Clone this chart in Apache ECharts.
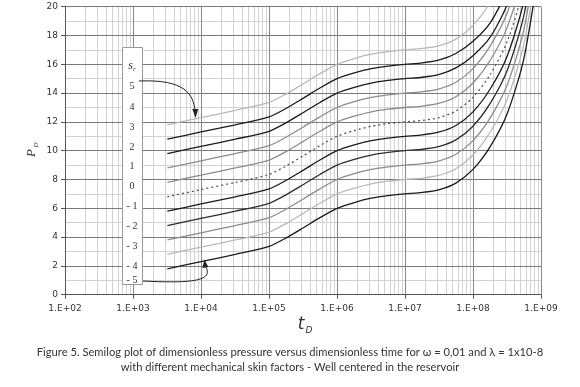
<!DOCTYPE html>
<html>
<head>
<meta charset="utf-8">
<script src="https://cdn.jsdelivr.net/npm/echarts@6/dist/echarts.min.js"></script>
<style>
  html, body { margin: 0; padding: 0; background: #fff; }
  #main { width: 580px; height: 387px; }
</style>
</head>
<body>
<div id="main"></div>
<script>
// dimensionless time (x, log scale)
var tD = [3.2e3, 1e4, 3.2e4, 1e5, 1.8e5, 3.2e5, 5.6e5, 1e6, 1.8e6, 3.2e6, 5.6e6, 1e7, 1.8e7, 3.2e7, 5.6e7, 1e8, 1.8e8, 3.2e8, 5.6e8, 1e9];

// PD for each mechanical skin factor
var s5  = [11.8, 12.3, 12.8, 13.35, 13.95, 14.65, 15.35, 16.0, 16.4, 16.7, 16.88, 17.0, 17.1, 17.3, 17.75, 18.7, 20.3, 22.6, 26.4, 33.6];
var s4  = [10.8, 11.3, 11.8, 12.35, 12.95, 13.65, 14.35, 15.0, 15.4, 15.7, 15.88, 16.0, 16.1, 16.3, 16.75, 17.6, 18.9, 21.2, 25.4, 32.6];
var s3  = [9.8, 10.3, 10.8, 11.35, 11.95, 12.65, 13.35, 14.0, 14.4, 14.7, 14.88, 15.0, 15.1, 15.3, 15.75, 16.6, 17.9, 20.2, 24.4, 31.6];
var s2  = [8.8, 9.3, 9.8, 10.35, 10.95, 11.65, 12.35, 13.0, 13.4, 13.7, 13.88, 14.0, 14.1, 14.3, 14.75, 15.7, 17.3, 19.6, 23.4, 30.6];
var s1  = [7.8, 8.3, 8.8, 9.35, 9.95, 10.65, 11.35, 12.0, 12.4, 12.7, 12.88, 13.0, 13.1, 13.3, 13.75, 14.7, 16.3, 18.6, 22.4, 29.6];
var s0  = [6.8, 7.3, 7.8, 8.35, 8.95, 9.65, 10.35, 11.0, 11.4, 11.7, 11.88, 12.0, 12.1, 12.3, 12.75, 13.7, 15.3, 17.6, 21.4, 28.6];
var sm1 = [5.8, 6.3, 6.8, 7.35, 7.95, 8.65, 9.35, 10.0, 10.4, 10.7, 10.88, 11.0, 11.1, 11.3, 11.75, 12.7, 14.3, 16.6, 20.4, 27.6];
var sm2 = [4.8, 5.3, 5.8, 6.35, 6.95, 7.65, 8.35, 9.0, 9.4, 9.7, 9.88, 10.0, 10.1, 10.3, 10.75, 11.7, 13.3, 15.6, 19.4, 26.6];
var sm3 = [3.8, 4.3, 4.8, 5.35, 5.95, 6.65, 7.35, 8.0, 8.4, 8.7, 8.88, 9.0, 9.1, 9.3, 9.75, 10.7, 12.3, 14.6, 18.4, 25.6];
var sm4 = [2.8, 3.3, 3.8, 4.35, 4.95, 5.65, 6.35, 7.0, 7.4, 7.7, 7.88, 8.0, 8.1, 8.3, 8.75, 9.7, 11.3, 13.6, 17.4, 24.6];
var sm5 = [1.8, 2.3, 2.8, 3.35, 3.95, 4.65, 5.35, 6.0, 6.4, 6.7, 6.88, 7.0, 7.1, 7.3, 7.75, 8.7, 10.3, 12.6, 16.4, 23.6];

var skinLabels = ['5', '4', '3', '2', '1', '0', '- 1', '- 2', '- 3', '- 4', '- 5'];
var caption = [
  'Figure 5. Semilog plot of dimensionless pressure versus dimensionless time for \u03c9 = 0,01 and \u03bb = 1x10-8',
  'with different mechanical skin factors - Well centered in the reservoir'
];

var BLACK = '#1a1a1a', GREY = '#8c8c8c', LIGHT = '#b9b9b9';
var curves = [
  { data: s5,  color: LIGHT },
  { data: s4,  color: BLACK },
  { data: s3,  color: BLACK },
  { data: s2,  color: GREY },
  { data: s1,  color: GREY },
  { data: s0,  color: '#555', dash: [2, 3] },
  { data: sm1, color: BLACK },
  { data: sm2, color: '#2e2e2e' },
  { data: sm3, color: GREY },
  { data: sm4, color: LIGHT },
  { data: sm5, color: BLACK }
];

// minor log grid lines 2..9 in every decade
var minorX = [];
for (var e = 2; e < 9; e++) {
  for (var k = 2; k <= 9; k++) minorX.push(k * Math.pow(10, e));
}

var series = curves.map(function (c, i) {
  return {
    name: skinLabels[i],
    type: 'line',
    data: tD.map(function (t, j) { return [t, c.data[j]]; }),
    showSymbol: false,
    smooth: 0.25,
    clip: true,
    silent: true,
    lineStyle: { color: c.color, width: 1.3, type: c.dash || 'solid' },
    z: 3
  };
});

series.push({
  type: 'line',
  data: [],
  silent: true,
  markLine: {
    z: -1,
    silent: true,
    symbol: ['none', 'none'],
    label: { show: false },
    lineStyle: { color: '#d2d2d2', width: 1, type: 'solid' },
    animation: false,
    data: minorX.map(function (v) { return { xAxis: v }; })
  }
});

var legendY = [86.7, 107, 127, 147, 166.7, 186.5, 206.7, 226.7, 246.7, 266, 280];
var legendTexts = skinLabels.map(function (lab, i) {
  return {
    type: 'text', z: 12,
    style: { text: lab, x: 132, y: legendY[i], textAlign: 'center', textVerticalAlign: 'middle',
      fontSize: 10, fontFamily: 'Liberation Serif', fill: '#333' }
  };
});

var chart = echarts.init(document.getElementById('main'));
chart.setOption({
  animation: false,
  backgroundColor: '#fff',
  grid: { left: 65, right: 39, top: 6.7, bottom: 92.3 },
  xAxis: {
    type: 'log',
    logBase: 10,
    min: 100,
    max: 1e9,
    splitNumber: 7,
    axisLine: { lineStyle: { color: '#555' } },
    axisTick: { show: true, length: 4, lineStyle: { color: '#555' } },
    axisLabel: {
      color: '#333', fontSize: 9, fontFamily: 'DejaVu Sans', margin: 9,
      formatter: function (v) {
        var p = Math.round(Math.log(v) / Math.LN10);
        return '1.E+' + (p < 10 ? '0' + p : p);
      }
    },
    splitLine: { show: true, lineStyle: { color: '#8a8a8a', width: 1 } }
  },
  yAxis: {
    type: 'value',
    min: 0,
    max: 20,
    interval: 2,
    axisLine: { show: true, lineStyle: { color: '#555' } },
    axisTick: { show: true, length: 4, lineStyle: { color: '#555' } },
    axisLabel: { color: '#333', fontSize: 9, fontFamily: 'DejaVu Sans', margin: 7 },
    splitLine: { show: true, lineStyle: { color: '#7a7a7a', width: 1 } },
    minorTick: { show: false, splitNumber: 2 },
    minorSplitLine: { show: true, lineStyle: { color: '#d2d2d2', width: 1 } }
  },
  series: series,
  graphic: [
    // legend box with skin factors
    { type: 'rect', z: 10, shape: { x: 122.5, y: 47.5, width: 20, height: 237 },
      style: { fill: '#fff', stroke: '#9a9a9a', lineWidth: 1 } }
  ].concat(legendTexts).concat([
    { type: 'text', z: 12, style: { text: '{s|s}{r|r}', x: 132, y: 66, textAlign: 'center', textVerticalAlign: 'middle',
      rich: {
        s: { fontSize: 12, fontStyle: 'italic', fontFamily: 'Liberation Serif', fill: '#333' },
        r: { fontSize: 7, fontStyle: 'italic', fontFamily: 'Liberation Serif', fill: '#333', padding: [6, 0, 0, 0] }
      } } },
    // arrows
    { type: 'bezierCurve', z: 11, shape: { x1: 139, y1: 81, cpx1: 186, cpy1: 79, cpx2: 193, cpy2: 95, x2: 195, y2: 110 },
      style: { stroke: '#222', lineWidth: 1, fill: null } },
    { type: 'polygon', z: 11, shape: { points: [[195.5, 118], [192.3, 109], [198.3, 109]] }, style: { fill: '#222' } },
    { type: 'bezierCurve', z: 11, shape: { x1: 143, y1: 281, cpx1: 200, cpy1: 284, cpx2: 212, cpy2: 279, x2: 206, y2: 267 },
      style: { stroke: '#222', lineWidth: 1, fill: null } },
    { type: 'polygon', z: 11, shape: { points: [[204.5, 259.5], [202.3, 268], [208.3, 267]] }, style: { fill: '#222' } },
    // axis names
    { type: 'group', x: 32, y: 150, rotation: Math.PI / 2, children: [
      { type: 'text', style: { text: 'P', x: -3, y: 0, textAlign: 'center', textVerticalAlign: 'middle',
        fontSize: 13, fontStyle: 'italic', fontFamily: 'Liberation Serif', fill: '#333' } },
      { type: 'text', style: { text: 'D', x: 5, y: 4, textAlign: 'center', textVerticalAlign: 'middle',
        fontSize: 7, fontStyle: 'italic', fontFamily: 'Liberation Serif', fill: '#333' } }
    ] },
    { type: 'text', style: { text: 't', x: 301, y: 325, textAlign: 'center', textVerticalAlign: 'middle',
      fontSize: 17, fontStyle: 'italic', fontFamily: 'DejaVu Sans', fill: '#333' } },
    { type: 'text', style: { text: 'D', x: 309, y: 331, textAlign: 'center', textVerticalAlign: 'middle',
      fontSize: 9, fontStyle: 'italic', fontFamily: 'DejaVu Sans', fill: '#333' } },
    // caption
    { type: 'text', style: { text: caption[0], x: 290, y: 352, textAlign: 'center', textVerticalAlign: 'middle',
      fontSize: 11.2, fontFamily: 'Lato', fill: '#333' } },
    { type: 'text', style: { text: caption[1], x: 290, y: 367, textAlign: 'center', textVerticalAlign: 'middle',
      fontSize: 11.2, fontFamily: 'Lato', fill: '#333' } }
  ])
});
</script>
</body>
</html>
